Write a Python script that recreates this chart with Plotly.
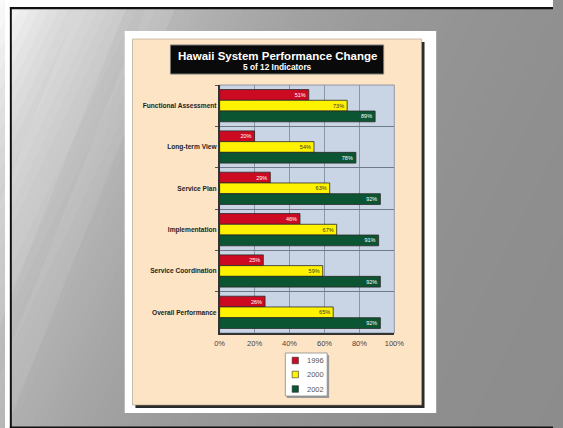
import math
import plotly.graph_objects as go

# ---------------- data ----------------
categories = ["Functional Assessment", "Long-term View", "Service Plan",
              "Implementation", "Service Coordination", "Overall Performance"]
years = ["1996", "2000", "2002"]
v1996 = [51, 20, 29, 46, 25, 26]
v2000 = [73, 54, 63, 67, 59, 65]
v2002 = [89, 78, 92, 91, 92, 92]
x_ticks = [0, 20, 40, 60, 80, 100]
x_tick_labels = ["0%", "20%", "40%", "60%", "80%", "100%"]
title_text = "Hawaii System Performance Change"
subtitle_text = "5 of 12 Indicators"

bar_colors = ["#cc0a22", "#fff200", "#0b5532"]
text_colors = ["#ffffff", "#333333", "#ffffff"]
series = [v1996, v2000, v2002]

W, H = 563, 428
FONT = "Liberation Sans, Arial, sans-serif"


def px(x):
    return x / W


def py(y):
    return 1 - y / H


fig = go.Figure()
for name, vals, col, tc in zip(years, series, bar_colors, text_colors):
    fig.add_trace(go.Bar(
        y=categories, x=vals, name=name, orientation="h",
        marker=dict(color=col, line=dict(color="#2a2a2a", width=0.8)),
        text=[f"{v}%" for v in vals], textposition="inside", insidetextanchor="end",
        textfont=dict(size=5.5, color=tc, family=FONT),
        showlegend=False, hoverinfo="skip",
    ))

shapes = []

# ---- slide background gradient (diagonal bands) ----
step = 10
c = -20
while c < 800:
    s_mid = c + step / 2
    g = int(round(138 + 112 * math.exp(-max(s_mid, 0) / 200)))
    g = max(0, min(255, g))
    col = f"rgb({g},{g},{g})"
    c1, c2 = c, c + step + 1
    pts = [(c1 + 2.5, -5), (c2 + 2.5, -5), (c2 - 216.5, 433), (c1 - 216.5, 433)]
    path = "M " + " L ".join(f"{px(a):.5f},{py(b):.5f}" for a, b in pts) + " Z"
    shapes.append(dict(type="path", path=path, xref="paper", yref="paper",
                       fillcolor=col, line=dict(width=0), layer="below"))
    c += step

# soft light streaks on the left
for (x0, w, op) in [(-40, 50, 0.10), (30, 30, 0.08)]:
    pts = [(x0 + 120, -5), (x0 + 120 + w, -5), (x0 - 60 + w, 433), (x0 - 60, 433)]
    path = "M " + " L ".join(f"{px(a):.5f},{py(b):.5f}" for a, b in pts) + " Z"
    shapes.append(dict(type="path", path=path, xref="paper", yref="paper",
                       fillcolor=f"rgba(255,255,255,{op})", line=dict(width=0), layer="below"))


def rect(x0, y0, x1, y1, fill, line_color=None, lw=0, layer="below"):
    return dict(type="rect", xref="paper", yref="paper",
                x0=px(x0), x1=px(x1), y0=py(y1), y1=py(y0),
                fillcolor=fill,
                line=dict(color=line_color or fill, width=lw), layer=layer)


# white margins outside slide frame
shapes.append(rect(0, 0, W, 7, "#ffffff"))
shapes.append(rect(0, 0, 5, H, "#ffffff"))
# black frame lines
shapes.append(rect(5, 7, W, 9.3, "#111111"))
shapes.append(rect(5, 7, 7, H, "#111111"))
shapes.append(rect(5, 426.5, W, H, "#111111"))

# white card
shapes.append(rect(123, 31, 443, 413, "#ffffff"))
# shadow of beige panel
shapes.append(rect(134, 42, 431, 408, "#2b2b2b"))
# beige panel
shapes.append(rect(131, 39, 428, 405, "#fde4c4", "#a89a88", 0.6))
# title box
shapes.append(rect(170, 45, 389, 74, "#0a0a0a", "#777777", 1))
# plot area background
shapes.append(rect(220.5, 85, 400, 333, "#c9d4e4", "#7d8796", 0.8))
# legend box
shapes.append(rect(289.5, 355, 333, 398, "#9a9a9a"))
shapes.append(rect(288, 353, 331, 396, "#ffffff", "#8a8a8a", 0.8))

# legend swatches
legend_y = [360.5, 374.5, 389]
annotations = []
for name, col, yc in zip(years, bar_colors, legend_y):
    shapes.append(rect(295, yc - 3.3, 301.5, yc + 3.3, col, "#333333", 0.6, layer="above"))
    annotations.append(dict(x=px(308), y=py(yc), xref="paper", yref="paper",
                            text=name, showarrow=False, xanchor="left", yanchor="middle",
                            font=dict(size=7.5, color="#555555", family=FONT)))

# title texts
annotations.append(dict(x=px(279.5), y=py(56.5), xref="paper", yref="paper",
                        text=f"<b>{title_text}</b>", showarrow=False,
                        xanchor="center", yanchor="middle",
                        font=dict(size=11.5, color="#ffffff", family=FONT)))
annotations.append(dict(x=px(279.5), y=py(67.5), xref="paper", yref="paper",
                        text=f"<b>{subtitle_text}</b>", showarrow=False,
                        xanchor="center", yanchor="middle",
                        font=dict(size=8.3, color="#ffffff", family=FONT)))

fig.update_layout(
    width=W, height=H,
    margin=dict(l=0, r=0, t=0, b=0, pad=0),
    paper_bgcolor="#8c8c8c",
    plot_bgcolor="rgba(0,0,0,0)",
    barmode="group", bargap=0.22, bargroupgap=0.0,
    shapes=shapes, annotations=annotations,
    showlegend=False,
    xaxis=dict(domain=[px(220.5), px(400)], range=[0, 100],
               tickvals=x_ticks, ticktext=x_tick_labels,
               showgrid=True, gridcolor="#8a96a7", gridwidth=1,
               zeroline=False, showline=True, linecolor="#333333", linewidth=1.5,
               ticks="", ticklabelstandoff=2,
               tickfont=dict(size=7.5, color="#444444", family=FONT),
               fixedrange=True),
    yaxis=dict(domain=[py(333), py(85)], type="category",
               categoryorder="array", categoryarray=categories,
               autorange="reversed", tickson="boundaries",
               showgrid=True, gridcolor="#6f7987", gridwidth=1,
               showline=True, linecolor="#333333", linewidth=1.5,
               ticks="outside", ticklen=3, tickcolor="#555555",
               tickprefix="<b>", ticksuffix="</b>",
               tickfont=dict(size=6.6, color="#1e1e1e", family=FONT),
               fixedrange=True),
    uniformtext=dict(minsize=5, mode="show"),
)

fig.write_html(
    "out.html",
    config={"displayModeBar": False},
    post_script=("document.documentElement.style.overflow='hidden';"
                 "document.body.style.overflow='hidden';"
                 "document.body.style.margin='0';"),
)
